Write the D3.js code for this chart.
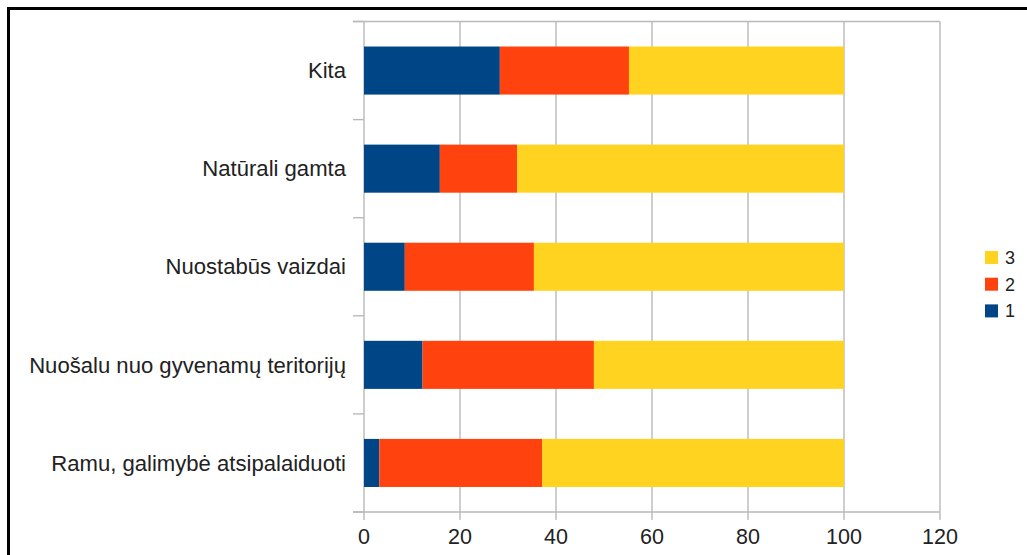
<!DOCTYPE html>
<html>
<head>
<meta charset="utf-8">
<script src="https://cdn.jsdelivr.net/npm/d3@7"></script>
<style>
  html, body { margin: 0; padding: 0; background: #fff; }
  svg { display: block; }
  text { font-family: "Liberation Sans", Arial, sans-serif; fill: #222; }
</style>
</head>
<body>
<svg id="chart" width="1027" height="555"></svg>
<script>
const categories = ["Kita", "Natūrali gamta", "Nuostabūs vaizdai", "Nuošalu nuo gyvenamų teritorijų", "Ramu, galimybė atsipalaiduoti"];
const series1 = [28.3, 15.8, 8.5, 12.2, 3.2];
const series2 = [26.9, 16.1, 26.9, 35.7, 33.9];
const series3 = [44.8, 68.1, 64.6, 52.1, 62.9];
const seriesNames = ["1", "2", "3"];
const seriesColors = ["#004586", "#ff420e", "#ffd320"];
const xTicks = [0, 20, 40, 60, 80, 100, 120];

const svg = d3.select("#chart");

// outer frame
svg.append("rect").attr("x", 8.5).attr("y", 8.5).attr("width", 1040).attr("height", 570)
  .attr("fill", "none").attr("stroke", "#000").attr("stroke-width", 3);

const x = d3.scaleLinear().domain([0, 120]).range([364, 940]);
const y = d3.scaleBand().domain(categories).range([21.5, 512]).paddingInner(0.51).paddingOuter(0.255);

const rows = categories.map((c, i) => ({ cat: c, "1": series1[i], "2": series2[i], "3": series3[i] }));
const stacked = d3.stack().keys(seriesNames)(rows);

const gridColor = "#b9b9b9";
// vertical gridlines
svg.append("g").selectAll("line").data(xTicks).join("line")
  .attr("x1", d => x(d)).attr("x2", d => x(d))
  .attr("y1", 21.5).attr("y2", 520)
  .attr("stroke", gridColor).attr("stroke-width", 1.4);

// top border and bottom axis
[21.5, 512].forEach(yy => {
  svg.append("line").attr("x1", 353).attr("x2", x(120)).attr("y1", yy).attr("y2", yy)
    .attr("stroke", gridColor).attr("stroke-width", 1.4);
});
// category separator ticks
const step = y.step();
const sepY = d3.range(categories.length + 1).map(k => 21.5 + k * step);
svg.append("g").selectAll("line").data(sepY).join("line")
  .attr("x1", 353).attr("x2", x(0)).attr("y1", d => d).attr("y2", d => d)
  .attr("stroke", gridColor).attr("stroke-width", 1.4);

// bars
svg.append("g").selectAll("g").data(stacked).join("g")
  .attr("fill", (d, i) => seriesColors[i])
  .selectAll("rect").data(d => d).join("rect")
  .attr("x", d => x(d[0]))
  .attr("width", d => x(d[1]) - x(d[0]))
  .attr("y", d => y(d.data.cat))
  .attr("height", y.bandwidth());

// x tick labels
svg.append("g").selectAll("text").data(xTicks).join("text")
  .attr("x", d => x(d)).attr("y", 544)
  .attr("text-anchor", "middle").attr("font-size", 21.5)
  .text(d => d);

// category labels
svg.append("g").selectAll("text").data(categories).join("text")
  .attr("x", 346).attr("y", d => y(d) + y.bandwidth() / 2)
  .attr("dy", "0.35em").attr("text-anchor", "end").attr("font-size", 22.1)
  .text(d => d);

// legend (reverse order: 3, 2, 1)
const legendItems = seriesNames.map((n, i) => ({ name: n, color: seriesColors[i] })).reverse();
const lg = svg.append("g").selectAll("g").data(legendItems).join("g")
  .attr("transform", (d, i) => `translate(985, ${251 + i * 26.7})`);
lg.append("rect").attr("width", 13).attr("height", 13).attr("fill", d => d.color);
lg.append("text").attr("x", 20).attr("y", 6.5).attr("dy", "0.35em")
  .attr("font-size", 18).text(d => d.name);
</script>
</body>
</html>
